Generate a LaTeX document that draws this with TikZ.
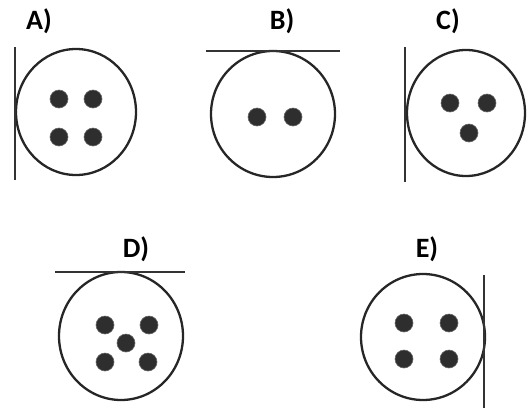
\documentclass[tikz,border=0pt]{standalone}
\usepackage{fontspec}
\setsansfont{Carlito}
\usetikzlibrary{positioning}

\begin{document}
\begin{tikzpicture}[
    x=1pt, y=-1pt,
    ring/.style={draw=black!85, line width=2.3pt},
    wall/.style={draw=black!80, line width=2.6pt},
    dot/.style={fill=black!82, draw=black!60, line width=0.6pt},
    tag/.style={font=\sffamily\bfseries\fontsize{28}{32}\selectfont, inner sep=0pt}
]
    \useasboundingbox (0,0) rectangle (530,410);

    % Panel A (wall on the left)
    \node[tag] (labA) at (39,21) {A)};
    \draw[ring] (76,112) ellipse (60 and 63);
    \draw[wall] (15,47) coordinate (a1) -- (15,180) coordinate (a2);
    \foreach \x/\y in {59/99,93/99,59/137,93/137}
        \fill[dot] (\x,\y) circle (9);

    % Panel B (wall on top)
    \node[tag] (labB) at (282,21) {B)};
    \draw[ring] (273,114) ellipse (62 and 63);
    \draw[wall] (206,51) coordinate (b1) -- (340,51) coordinate (b2);
    \foreach \x/\y in {257/117,293/117}
        \fill[dot] (\x,\y) circle (9);

    % Panel C (wall on the left)
    \node[tag] (labC) at (448,21) {C)};
    \draw[ring] (466,113) ellipse (59 and 63);
    \draw[wall] (405,47) coordinate (c1) -- (405,182) coordinate (c2);
    \foreach \x/\y in {450/103,487/103,469/133}
        \fill[dot] (\x,\y) circle (9);

    % Panel D (wall on top)
    \node[tag] (labD) at (136,249) {D)};
    \draw[ring] (121,336) ellipse (62 and 64);
    \draw[wall] (55,272) coordinate (d1) -- (185,272) coordinate (d2);
    \foreach \x/\y in {105/325,149/325,126/343,105/362,148/362}
        \fill[dot] (\x,\y) circle (9);

    % Panel E (wall on the right)
    \node[tag] (labE) at (427,249) {E)};
    \draw[ring] (423,337) ellipse (62 and 63);
    \draw[wall] (484,275) coordinate (e1) -- (484,408) coordinate (e2);
    \foreach \x/\y in {404/323,449/323,404/359,449/359}
        \fill[dot] (\x,\y) circle (9);

\end{tikzpicture}
\end{document}
